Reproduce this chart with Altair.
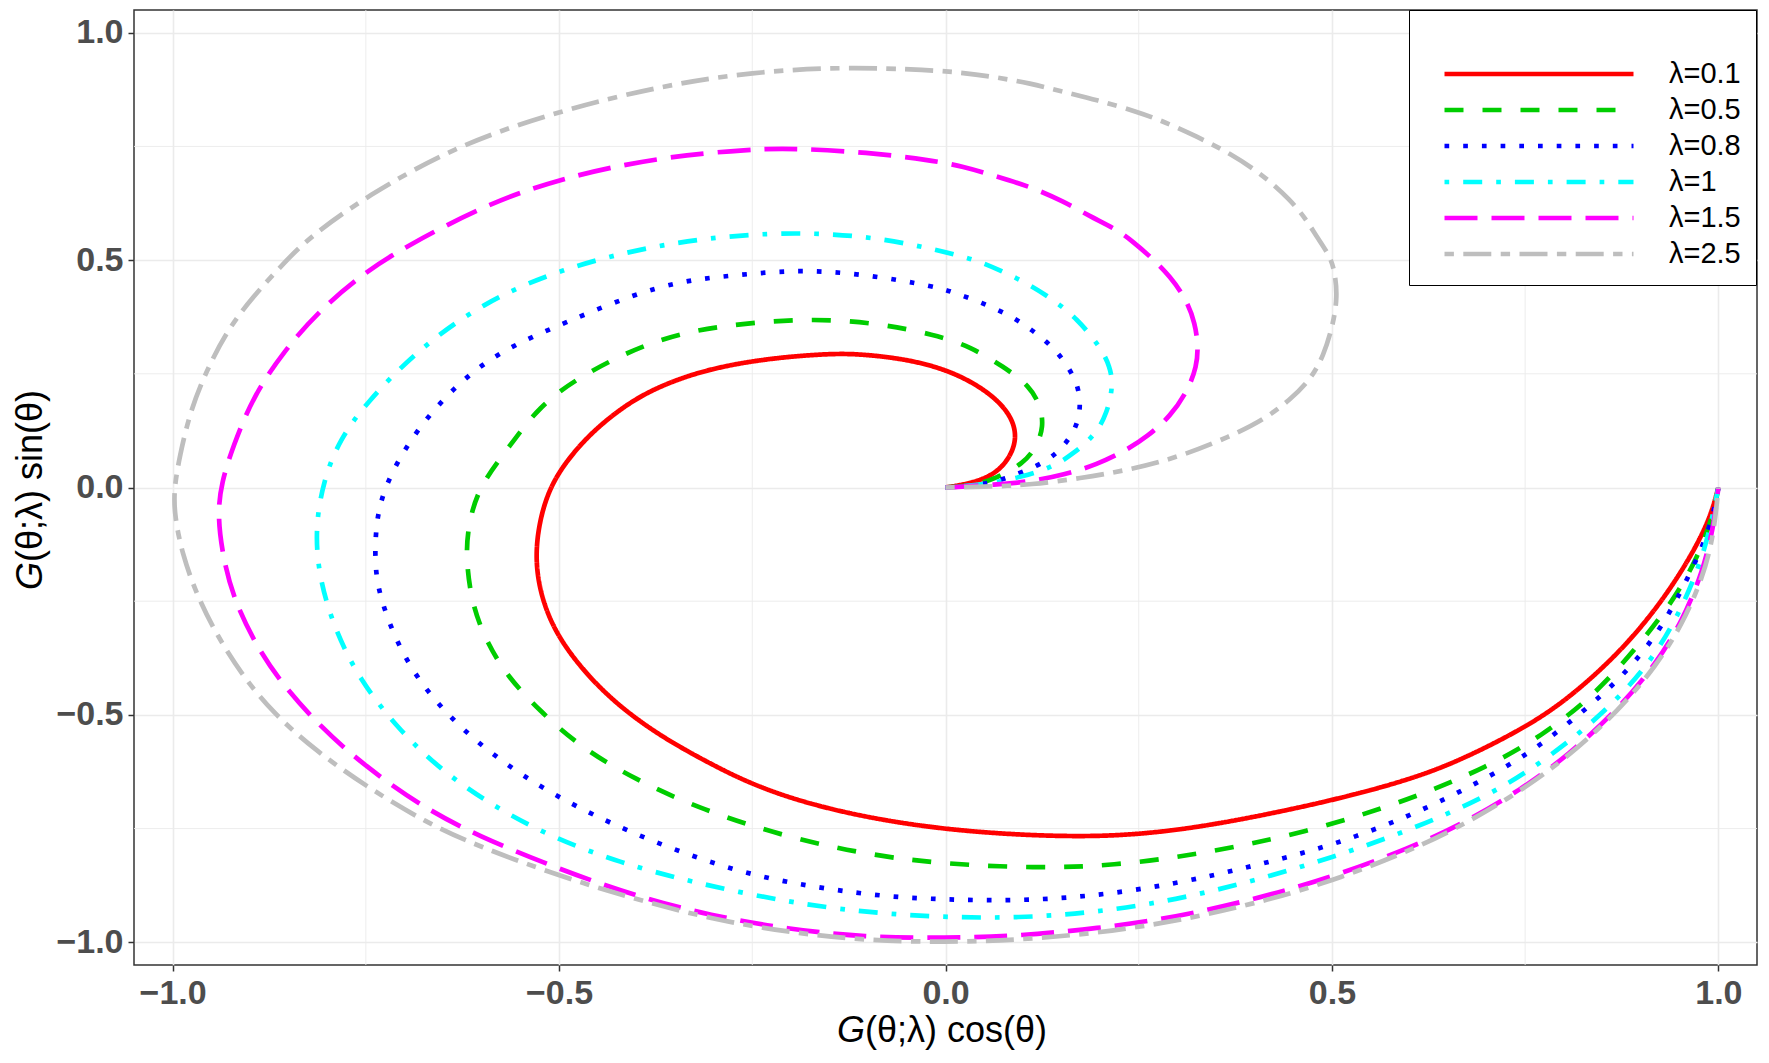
import altair as alt
import pandas as pd

# ---------------- data ----------------
LAMBDA_LABELS = ["λ=0.1", "λ=0.5", "λ=0.8", "λ=1", "λ=1.5", "λ=2.5"]
COLORS = ["#FF0000", "#00CD00", "#0000FF", "#00FFFF", "#FF00FF", "#BEBEBE"]
DASHES = [[1, 0], [19, 19], [4.7, 14], [4.7, 14, 19, 14], [33, 14], [9.4, 9.4, 28, 9.4]]

X_TICKS = [-1.0, -0.5, 0.0, 0.5, 1.0]
Y_TICKS = [-1.0, -0.5, 0.0, 0.5, 1.0]
MINOR = [-0.75, -0.25, 0.25, 0.75]

X_TITLE_G = "G"
X_TITLE_REST = "(θ;λ) cos(θ)"
Y_TITLE_G = "G"
Y_TITLE_REST = "(θ;λ) sin(θ)"

X_L01 = [0.000, 0.036, 0.066, 0.084, 0.092, 0.087, 0.069, 0.040, 0.000, -0.050, -0.106, -0.148, -0.230, -0.303,
         -0.357, -0.405, -0.455, -0.490, -0.512, -0.525, -0.531, -0.525, -0.507, -0.474, -0.428, -0.369, -0.303,
         -0.237, -0.138, 0.000, 0.162, 0.264, 0.365, 0.500, 0.602, 0.669, 0.750, 0.805, 0.872, 0.926, 0.967,
         0.990, 1.000]
Y_L01 = [0.000, 0.010, 0.031, 0.068, 0.108, 0.150, 0.190, 0.227, 0.260, 0.282, 0.293, 0.295, 0.284, 0.262,
         0.232, 0.193, 0.127, 0.060, 0.000, -0.070, -0.150, -0.230, -0.313, -0.393, -0.474, -0.547, -0.609,
         -0.664, -0.715, -0.755, -0.770, -0.762, -0.737, -0.689, -0.642, -0.598, -0.528, -0.466, -0.364, -0.254,
         -0.145, -0.064, 0.000]

X_L05 = [0.000, 0.035, 0.066, 0.101, 0.118, 0.127, 0.123, 0.110, 0.075, 0.032, -0.013, -0.090, -0.171, -0.274,
         -0.369, -0.468, -0.527, -0.567, -0.605, -0.619, -0.620, -0.612, -0.593, -0.567, -0.527, -0.474, -0.402,
         -0.316, -0.204, -0.092, 0.000, 0.115, 0.216, 0.331, 0.467, 0.602, 0.703, 0.771, 0.838, 0.892, 0.940,
         0.974, 0.994, 1.000]
Y_L05 = [0.000, 0.004, 0.020, 0.053, 0.090, 0.134, 0.178, 0.222, 0.266, 0.310, 0.336, 0.362, 0.372, 0.360,
         0.332, 0.251, 0.178, 0.083, 0.000, -0.094, -0.167, -0.262, -0.342, -0.415, -0.488, -0.569, -0.642,
         -0.708, -0.770, -0.810, -0.828, -0.837, -0.832, -0.806, -0.759, -0.686, -0.613, -0.547, -0.459, -0.357,
         -0.254, -0.152, -0.057, 0.000]

X_L08 = [0.000, 0.040, 0.075, 0.123, 0.144, 0.161, 0.172, 0.175, 0.170, 0.157, 0.142, 0.123, 0.103, 0.082,
         0.058, 0.035, 0.010, -0.013, -0.100, -0.188, -0.277, -0.369, -0.500, -0.573, -0.632, -0.685, -0.718,
         -0.733, -0.738, -0.738, -0.725, -0.705, -0.679, -0.646, -0.606, -0.547, -0.481, -0.389, -0.270, -0.171,
         -0.072, 0.003, 0.081, 0.183, 0.298, 0.399, 0.500, 0.602, 0.690, 0.757, 0.818, 0.872, 0.920, 0.953,
         0.980, 0.994, 1.000]
Y_L08 = [0.000, 0.004, 0.017, 0.050, 0.075, 0.108, 0.145, 0.189, 0.231, 0.270, 0.303, 0.332, 0.357, 0.379,
         0.398, 0.414, 0.429, 0.442, 0.468, 0.480, 0.466, 0.450, 0.357, 0.303, 0.229, 0.126, 0.030,
         -0.040, -0.108, -0.196, -0.276, -0.357, -0.430, -0.496, -0.561, -0.635, -0.700, -0.773, -0.846, -0.879,
         -0.901, -0.906, -0.909, -0.901, -0.872, -0.832, -0.788, -0.722, -0.649, -0.583, -0.503, -0.423, -0.327,
         -0.225, -0.130, -0.057, 0.000]

X_L1 = [0.000, 0.050, 0.101, 0.140, 0.166, 0.194, 0.209, 0.217, 0.213, 0.200, 0.170, 0.140, 0.110, 0.079,
        0.045, 0.015, -0.020, -0.105, -0.227, -0.369, -0.500, -0.600, -0.685, -0.750, -0.784, -0.805, -0.816,
        -0.810, -0.790, -0.758, -0.711, -0.659, -0.593, -0.514, -0.422, -0.323, -0.204, -0.105, -0.007, 0.095,
        0.196, 0.298, 0.399, 0.500, 0.602, 0.703, 0.771, 0.832, 0.886, 0.926, 0.960, 0.984, 0.995, 1.000]
Y_L1 = [0.000, 0.006, 0.024, 0.046, 0.075, 0.116, 0.163, 0.224, 0.266, 0.310, 0.372, 0.412, 0.445, 0.471,
        0.497, 0.511, 0.526, 0.555, 0.563, 0.537, 0.480, 0.405, 0.300, 0.185, 0.105, 0.016, -0.094,
        -0.203, -0.313, -0.423, -0.525, -0.613, -0.693, -0.766, -0.825, -0.870, -0.912, -0.934, -0.945, -0.947,
        -0.934, -0.907, -0.865, -0.814, -0.753, -0.678, -0.605, -0.525, -0.437, -0.349, -0.240, -0.130, -0.042, 0.000]

X_L15 = [0.000, 0.066, 0.110, 0.153, 0.196, 0.235, 0.261, 0.291, 0.314, 0.325, 0.327, 0.323, 0.312, 0.291,
         0.265, 0.243, 0.222, 0.187, 0.153, 0.109, 0.066, 0.023, -0.020, -0.100, -0.198, -0.250, -0.369, -0.500,
         -0.600, -0.698, -0.750, -0.810, -0.856, -0.896, -0.922, -0.937, -0.942, -0.935, -0.922, -0.896, -0.863,
         -0.810, -0.751, -0.679, -0.606, -0.500, -0.402, -0.303, -0.204, -0.105, 0.000, 0.095, 0.196, 0.298,
         0.399, 0.500, 0.602, 0.669, 0.745, 0.805, 0.872, 0.920, 0.953, 0.980, 0.994, 1.000]
Y_L15 = [0.000, 0.006, 0.013, 0.028, 0.050, 0.083, 0.112, 0.156, 0.215, 0.266, 0.310, 0.361, 0.412, 0.464,
         0.508, 0.540, 0.567, 0.596, 0.629, 0.662, 0.684, 0.706, 0.720, 0.737, 0.746, 0.744, 0.727, 0.680,
         0.618, 0.530, 0.475, 0.390, 0.300, 0.200, 0.090, 0.010, -0.060, -0.152, -0.240, -0.335, -0.423,
         -0.525, -0.613, -0.700, -0.766, -0.839, -0.898, -0.942, -0.971, -0.989, -0.991, -0.986, -0.970, -0.945,
         -0.906, -0.857, -0.792, -0.740, -0.664, -0.590, -0.485, -0.386, -0.295, -0.185, -0.085, 0.000]

X_L25 = [0.000, 0.060, 0.110, 0.174, 0.239, 0.304, 0.368, 0.412, 0.446, 0.472, 0.489, 0.502, 0.507, 0.504,
         0.498, 0.480, 0.467, 0.446, 0.411, 0.368, 0.325, 0.282, 0.247, 0.196, 0.153, 0.109, 0.066, 0.023,
         -0.020, -0.130, -0.250, -0.369, -0.500, -0.632, -0.750, -0.825, -0.858, -0.896, -0.929, -0.958, -0.978,
         -0.991, -0.998, -0.998, -0.988, -0.968, -0.942, -0.909, -0.870, -0.817, -0.751, -0.672, -0.606, -0.500,
         -0.402, -0.303, -0.204, -0.105, 0.000, 0.095, 0.196, 0.298, 0.399, 0.500, 0.602, 0.669, 0.742, 0.805,
         0.872, 0.920, 0.953, 0.980, 0.994, 1.000]
Y_L25 = [0.000, 0.002, 0.006, 0.020, 0.039, 0.068, 0.112, 0.149, 0.193, 0.237, 0.288, 0.361, 0.420, 0.471,
         0.508, 0.552, 0.589, 0.633, 0.687, 0.735, 0.772, 0.805, 0.827, 0.852, 0.870, 0.889, 0.902, 0.912,
         0.918, 0.925, 0.914, 0.883, 0.828, 0.753, 0.640, 0.548, 0.490, 0.420, 0.347, 0.251, 0.163,
         0.068, 0.000, -0.057, -0.145, -0.240, -0.327, -0.415, -0.496, -0.576, -0.656, -0.737, -0.788, -0.854,
         -0.905, -0.949, -0.978, -0.996, -1.000, -0.995, -0.980, -0.954, -0.916, -0.866, -0.798, -0.743, -0.670,
         -0.593, -0.489, -0.391, -0.302, -0.198, -0.105, 0.000]

SERIES_X = [X_L01, X_L05, X_L08, X_L1, X_L15, X_L25]
SERIES_Y = [Y_L01, Y_L05, Y_L08, Y_L1, Y_L15, Y_L25]

rows = []
for lab, xs_, ys_ in zip(LAMBDA_LABELS, SERIES_X, SERIES_Y):
    for i, (xv, yv) in enumerate(zip(xs_, ys_)):
        rows.append({"lam": lab, "idx": i, "x": xv, "y": yv})
df = pd.DataFrame(rows)

# ---------------- chart ----------------
FONT = "Liberation Sans"
W, H = 1623, 955

xs = alt.Scale(domain=[-1.05, 1.05], nice=False, zero=False)
ys = alt.Scale(domain=[-1.05, 1.05], nice=False, zero=False)

def make_axis(vals):
    return alt.Axis(values=vals, format=".1f", title=None, domain=False,
                    labelFont=FONT, labelFontSize=34, labelFontWeight="bold", labelColor="#4D4D4D",
                    labelPadding=5, tickColor="#333333", tickSize=6, tickWidth=1.5,
                    grid=True, gridColor="#EBEBEB", gridWidth=1.6)

x_axis = make_axis(X_TICKS)
y_axis = make_axis(Y_TICKS)

leg = alt.Legend(orient="none", legendX=1275, legendY=0, title=" ", titleFontSize=29, titlePadding=4,
                 titleFont=FONT, padding=15, symbolType="stroke", symbolSize=35721, symbolStrokeWidth=4.7,
                 symbolOffset=18, labelOffset=33, labelFont=FONT, labelFontSize=29, labelColor="black",
                 clipHeight=32, rowPadding=4, strokeColor="black", fillColor="white")

minor_df = pd.DataFrame({"v": MINOR})
vgrid = alt.Chart(minor_df).mark_rule(color="#EBEBEB", strokeWidth=0.9).encode(
    x=alt.X("v:Q", scale=xs, axis=x_axis))
hgrid = alt.Chart(minor_df).mark_rule(color="#EBEBEB", strokeWidth=0.9).encode(
    y=alt.Y("v:Q", scale=ys, axis=y_axis))

lines = alt.Chart(df).mark_line(strokeWidth=4.7, interpolate="basis").encode(
    x=alt.X("x:Q", scale=xs, axis=x_axis),
    y=alt.Y("y:Q", scale=ys, axis=y_axis),
    color=alt.Color("lam:N", scale=alt.Scale(domain=LAMBDA_LABELS, range=COLORS), legend=leg),
    strokeDash=alt.StrokeDash("lam:N", scale=alt.Scale(domain=LAMBDA_LABELS, range=DASHES), legend=leg),
    order=alt.Order("idx:Q"),
)

def text_layer(s, **kw):
    return alt.Chart(pd.DataFrame({"t": [s]})).mark_text(font=FONT, fontSize=36, color="black",
                                                          baseline="middle", **kw)

xt1 = text_layer(X_TITLE_G, align="right", fontStyle="italic").encode(
    x=alt.value(731), y=alt.value(1021), text="t:N")
xt2 = text_layer(X_TITLE_REST, align="left").encode(
    x=alt.value(731), y=alt.value(1021), text="t:N")
yt1 = text_layer(Y_TITLE_G, align="right", fontStyle="italic", angle=270).encode(
    x=alt.value(-103), y=alt.value(552), text="t:N")
yt2 = text_layer(Y_TITLE_REST, align="left", angle=270).encode(
    x=alt.value(-103), y=alt.value(552), text="t:N")

chart = alt.layer(vgrid, hgrid, lines, xt1, xt2, yt1, yt2).properties(
    width=W, height=H,
    padding={"left": 134, "top": 10, "right": 12, "bottom": 98},
    autosize=alt.AutoSizeParams(type="none"),
).configure(font=FONT, background="white").configure_view(stroke="#333333", strokeWidth=1.5)

chart.save("out.html", embed_options={"renderer": "svg", "actions": False})
